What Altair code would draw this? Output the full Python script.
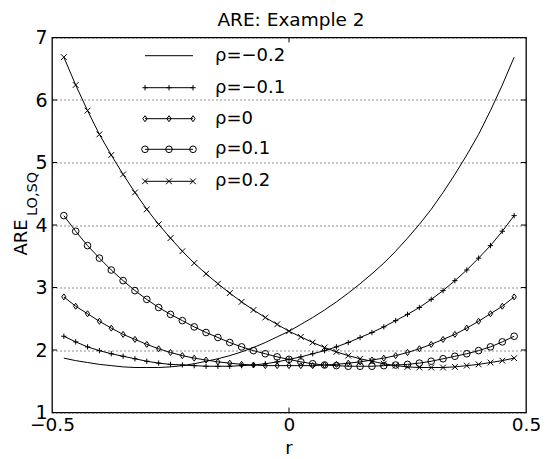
import altair as alt
import pandas as pd

# ---------------- data ----------------
R = [-0.475, -0.45, -0.425, -0.4, -0.375, -0.35, -0.325, -0.3, -0.275, -0.25,
     -0.225, -0.2, -0.175, -0.15, -0.125, -0.1, -0.075, -0.05, -0.025, 0.0,
     0.025, 0.05, 0.075, 0.1, 0.125, 0.15, 0.175, 0.2, 0.225, 0.25,
     0.275, 0.3, 0.325, 0.35, 0.375, 0.4, 0.425, 0.45, 0.475]

SERIES = ["ρ=−0.2", "ρ=−0.1", "ρ=0", "ρ=0.1", "ρ=0.2"]

RHO_M02 = [1.87, 1.83, 1.80, 1.77, 1.75, 1.73, 1.72, 1.72, 1.72, 1.73,
           1.75, 1.78, 1.82, 1.86, 1.91, 1.97, 2.04, 2.12, 2.21, 2.30,
           2.41, 2.52, 2.64, 2.77, 2.91, 3.06, 3.22, 3.39, 3.58, 3.79,
           4.01, 4.25, 4.52, 4.81, 5.12, 5.45, 5.83, 6.24, 6.685]
RHO_M01 = [2.22, 2.13, 2.05, 1.99, 1.94, 1.90, 1.86, 1.82, 1.79, 1.77,
           1.76, 1.75, 1.74, 1.74, 1.74, 1.75, 1.76, 1.78, 1.81, 1.85,
           1.89, 1.94, 1.99, 2.05, 2.12, 2.20, 2.28, 2.37, 2.47, 2.57,
           2.68, 2.81, 2.95, 3.11, 3.28, 3.47, 3.67, 3.90, 4.15]
RHO_0 = [2.85, 2.70, 2.58, 2.46, 2.35, 2.25, 2.17, 2.09, 2.02, 1.96,
         1.91, 1.87, 1.84, 1.81, 1.79, 1.77, 1.76, 1.75, 1.75, 1.75,
         1.75, 1.75, 1.76, 1.77, 1.79, 1.81, 1.84, 1.87, 1.91, 1.96,
         2.02, 2.09, 2.17, 2.25, 2.35, 2.46, 2.58, 2.70, 2.85]
RHO_P01 = [4.15, 3.90, 3.67, 3.47, 3.28, 3.11, 2.95, 2.81, 2.68, 2.57,
           2.47, 2.37, 2.28, 2.20, 2.12, 2.05, 1.99, 1.94, 1.89, 1.85,
           1.81, 1.78, 1.76, 1.75, 1.74, 1.74, 1.74, 1.75, 1.76, 1.77,
           1.79, 1.82, 1.86, 1.90, 1.94, 1.99, 2.05, 2.13, 2.22]
RHO_P02 = [6.685, 6.24, 5.83, 5.45, 5.12, 4.81, 4.52, 4.25, 4.01, 3.79,
           3.58, 3.39, 3.22, 3.06, 2.91, 2.77, 2.64, 2.52, 2.41, 2.30,
           2.21, 2.12, 2.04, 1.97, 1.91, 1.86, 1.82, 1.78, 1.75, 1.73,
           1.72, 1.72, 1.72, 1.73, 1.75, 1.77, 1.80, 1.83, 1.87]

X_TICKS = [-0.5, 0, 0.5]
Y_TICKS = [1, 2, 3, 4, 5, 6, 7]

TITLE = "ARE: Example 2"
X_TITLE = "r"
Y_TITLE = "ARE"
Y_SUB = "LO,SQ"

# ---------------- build tables ----------------
rows = []
for name, vals in zip(SERIES, [RHO_M02, RHO_M01, RHO_0, RHO_P01, RHO_P02]):
    for r, v in zip(R, vals):
        rows.append({"r": r, "are": v, "series": name})
df = pd.DataFrame(rows)
df_mk = df[df["series"] != SERIES[0]]

PLUS = "M-1,0L1,0M0,-1L0,1"
XMARK = "M-0.8,-0.8L0.8,0.8M-0.8,0.8L0.8,-0.8"
DIAMOND = "M0,-1L0.72,0L0,1L-0.72,0Z"
MK_DOMAIN = SERIES[1:]
shape_scale = alt.Scale(domain=MK_DOMAIN, range=[PLUS, DIAMOND, "circle", XMARK])
size_scale = alt.Scale(domain=MK_DOMAIN, range=[28, 52, 44, 28])

W, H = 474, 375
FONT = "DejaVu Sans"

xs = alt.Scale(domain=[-0.5, 0.5], nice=False, zero=False)
ys = alt.Scale(domain=[1, 7], nice=False, zero=False)

x_enc = alt.X("r:Q", scale=xs, axis=alt.Axis(
    values=X_TICKS, format="~g", title=None, grid=False, ticks=False, tickSize=0,
    domain=False, labelFont=FONT, labelFontSize=18.5, labelColor="black",
    labelPadding=3, labelFlush=False))
y_axis = alt.Axis(
    values=Y_TICKS, format="d", grid=True, gridDash=[1, 3],
    gridColor="#222", gridWidth=1, gridOpacity=1, ticks=False, tickSize=0,
    domain=False, labelFont=FONT, labelFontSize=19, labelColor="black",
    labelPadding=5, labelFlush=False,
    title=Y_TITLE, titleAngle=270, titleX=-30.5, titleY=199.5,
    titleAlign="center", titleBaseline="middle", titleFont=FONT,
    titleFontSize=18, titleFontWeight="normal", titleColor="black")
y_enc = alt.Y("are:Q", scale=ys, axis=y_axis)

lines = alt.Chart(df).mark_line(color="black", strokeWidth=1).encode(
    x=x_enc, y=y_enc, detail="series:N")

points = alt.Chart(df_mk).mark_point(filled=False, color="black", strokeWidth=1, opacity=1).encode(
    x=alt.X("r:Q", scale=xs, axis=None),
    y=alt.Y("are:Q", scale=ys, axis=y_axis),
    shape=alt.Shape("series:N", scale=shape_scale, legend=None),
    size=alt.Size("series:N", scale=size_scale, legend=None))

# inward ticks on the box
yt = pd.DataFrame({"v": Y_TICKS[1:-1]})
xt = pd.DataFrame({"v": [0]})
tick_l = alt.Chart(yt).mark_rule(color="black", strokeWidth=1).encode(
    y=alt.Y("v:Q", scale=ys, axis=y_axis), x=alt.value(0), x2=alt.value(5))
tick_r = alt.Chart(yt).mark_rule(color="black", strokeWidth=1).encode(
    y=alt.Y("v:Q", scale=ys, axis=y_axis), x=alt.value(W - 5), x2=alt.value(W))
tick_b = alt.Chart(xt).mark_rule(color="black", strokeWidth=1).encode(
    x=alt.X("v:Q", scale=xs, axis=None), y=alt.value(H - 5), y2=alt.value(H))
# top tick layer also carries the rotated subscript of the y title (top axis title)
tick_t = alt.Chart(xt).mark_rule(color="black", strokeWidth=1).encode(
    x=alt.X("v:Q", scale=xs, axis=alt.Axis(
        orient="top", labels=False, ticks=False, domain=False, grid=False,
        title=Y_SUB, titleAngle=270, titleX=-19.5, titleY=156,
        titleAlign="center", titleBaseline="middle", titleFont=FONT,
        titleFontSize=14.5, titleFontWeight="normal", titleColor="black")),
    y=alt.value(0), y2=alt.value(5))

# legend (Matlab-style, no box)
LEG_Y = [18.2, 50.2, 81.2, 111.8, 143.8]
LEG_X0, LEG_X1, LEG_TX = 93, 141, 163
leg = pd.DataFrame({"series": SERIES, "ly": LEG_Y})
leg_mk = pd.DataFrame([{"series": s, "ly": y, "lx": x}
                       for s, y in zip(SERIES[1:], LEG_Y[1:])
                       for x in [LEG_X0, (LEG_X0 + LEG_X1) / 2, LEG_X1]])
leg_lines = alt.Chart(leg).mark_rule(color="black", strokeWidth=1).encode(
    y=alt.Y("ly:Q", scale=None), x=alt.value(LEG_X0), x2=alt.value(LEG_X1))
leg_pts = alt.Chart(leg_mk).mark_point(filled=False, color="black", strokeWidth=1, opacity=1).encode(
    x=alt.X("lx:Q", scale=None, axis=None), y=alt.Y("ly:Q", scale=None),
    shape=alt.Shape("series:N", scale=shape_scale, legend=None),
    size=alt.Size("series:N", scale=size_scale, legend=None))
leg_txt = alt.Chart(leg).mark_text(align="left", baseline="middle", font=FONT,
                                   fontSize=18, color="black").encode(
    y=alt.Y("ly:Q", scale=None), x=alt.value(LEG_TX), text="series:N")

# horizontal titles
def label(txt, x, y, size):
    return alt.Chart(pd.DataFrame({"t": [txt]})).mark_text(
        font=FONT, fontSize=size, color="black", align="center",
        baseline="alphabetic").encode(
        text="t:N", x=alt.value(x), y=alt.value(y))

title = label(TITLE, 239, -11.5, 18.5)
xtitle = label(X_TITLE, 237, 416, 18)

chart = alt.layer(
    lines, points, tick_l, tick_r, tick_b, tick_t,
    leg_lines, leg_pts, leg_txt, title, xtitle
).resolve_axis(x="independent").properties(
    width=W, height=H,
    autosize=alt.AutoSizeParams(type="none"),
    padding={"left": 44, "top": 29.5, "right": 14, "bottom": 44},
    background="white",
).configure_view(stroke="black", strokeWidth=1.3)

chart.save("out.html", embed_options={"renderer": "svg", "actions": False})
